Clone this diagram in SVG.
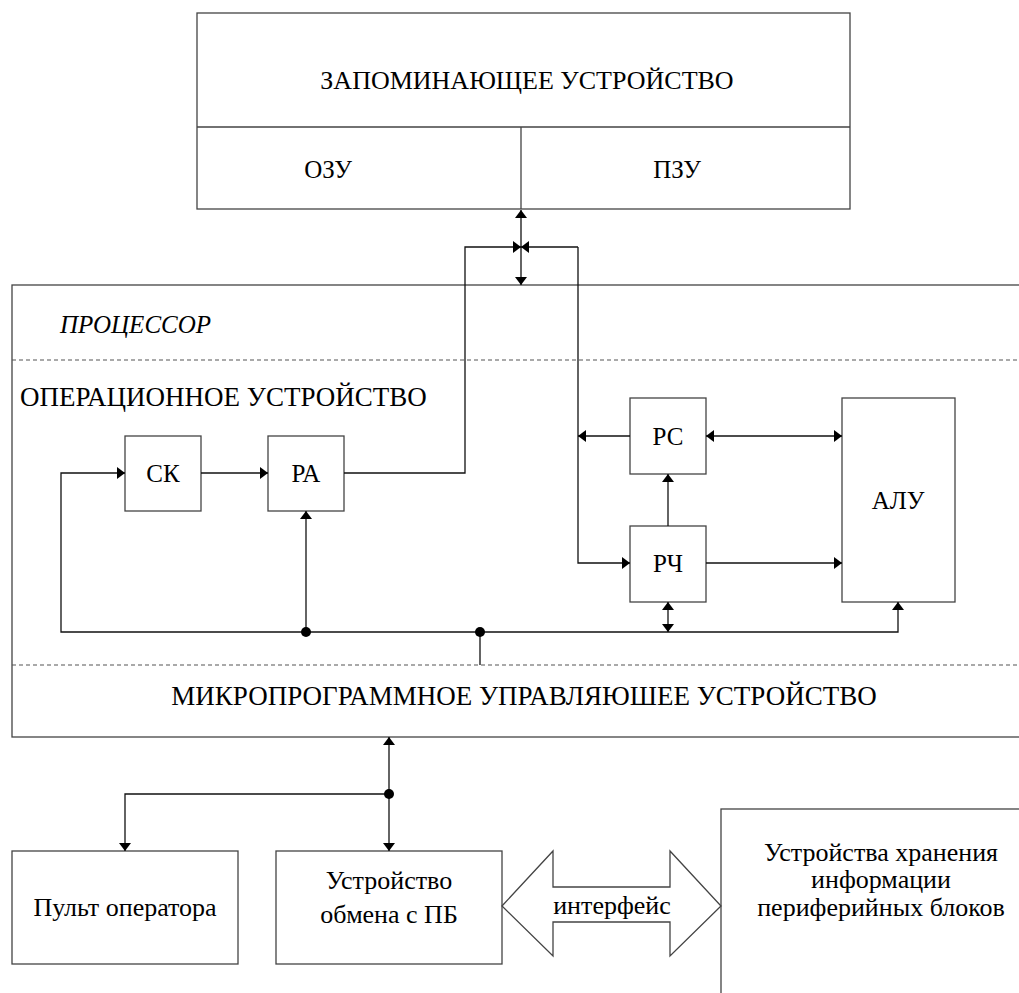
<svg xmlns="http://www.w3.org/2000/svg" width="1019" height="993" viewBox="0 0 1019 993">
  <style>
    .box { fill: #fff; stroke: #444; stroke-width: 1.3; }
    .div { fill: none; stroke: #444; stroke-width: 1.3; }
    .dash { fill: none; stroke: #555; stroke-width: 1.2; stroke-dasharray: 4 3; }
    .wire { fill: none; stroke: #111; stroke-width: 1.3; }
    .dot { fill: #000; }
    .big { font-size: 26px; }
    .hdr { font-size: 27px; }
    .lbl { font-size: 25px; }
    .sm { font-size: 26px; }
    .mid { text-anchor: middle; }
    .it { font-style: italic; }
  </style>
  <defs>
    <marker id="arr" viewBox="0 0 8 12" refX="8" refY="6" markerWidth="8" markerHeight="12" markerUnits="userSpaceOnUse" orient="auto-start-reverse">
      <path d="M0,0 L8,6 L0,12 z" fill="#000"/>
    </marker>
  </defs>

  <g font-family="'Liberation Serif', 'Times New Roman', 'DejaVu Serif', serif" fill="#000">

  <!-- memory unit -->
  <g id="memory">
    <rect class="box" x="197" y="13" width="653" height="196"/>
    <path class="div" d="M197,127 H850 M521,127 V209"/>
    <text class="big mid" x="527" y="89">ЗАПОМИНАЮЩЕЕ УСТРОЙСТВО</text>
    <text class="lbl mid" x="328" y="178">ОЗУ</text>
    <text class="lbl mid" x="677" y="178">ПЗУ</text>
  </g>

  <!-- processor frame with its two sections -->
  <g id="processor">
    <rect class="box" x="12" y="285" width="1030" height="452"/>
    <path class="dash" d="M12,360 H1019 M12,665 H1019"/>
    <text class="lbl it" x="60" y="333">ПРОЦЕССОР</text>
    <text class="hdr" x="20" y="406">ОПЕРАЦИОННОЕ УСТРОЙСТВО</text>
    <text class="hdr mid" x="524" y="705">МИКРОПРОГРАММНОЕ УПРАВЛЯЮШЕЕ УСТРОЙСТВО</text>
  </g>

  <g id="sk">
    <rect class="box" x="125" y="436" width="76" height="75"/>
    <text class="lbl mid" x="163" y="482">СК</text>
  </g>
  <g id="ra">
    <rect class="box" x="268" y="436" width="76" height="75"/>
    <text class="lbl mid" x="306" y="482">РА</text>
  </g>
  <g id="rs">
    <rect class="box" x="630" y="398" width="76" height="76"/>
    <text class="lbl mid" x="668" y="445">РС</text>
  </g>
  <g id="rch">
    <rect class="box" x="630" y="526" width="76" height="76"/>
    <text class="lbl mid" x="668" y="572">РЧ</text>
  </g>
  <g id="alu">
    <rect class="box" x="842" y="398" width="113" height="204"/>
    <text class="lbl mid" x="898" y="509">АЛУ</text>
  </g>

  <g id="console">
    <rect class="box" x="12" y="851" width="226" height="113"/>
    <text class="sm mid" x="125" y="916">Пульт оператора</text>
  </g>
  <g id="exchange">
    <rect class="box" x="276" y="851" width="226" height="113"/>
    <text class="sm mid" x="389" y="889">Устройство</text>
    <text class="sm mid" x="389" y="923">обмена с ПБ</text>
  </g>
  <g id="storage">
    <rect class="box" x="721" y="809" width="330" height="200"/>
    <text class="sm mid" x="881" y="861">Устройства хранения</text>
    <text class="sm mid" x="881" y="888">информации</text>
    <text class="sm mid" x="881" y="916">периферийных блоков</text>
  </g>

  <!-- wiring -->
  <g id="connectors">
    <path class="wire" d="M521,210 V285" marker-start="url(#arr)" marker-end="url(#arr)"/>
    <path class="wire" d="M344,473 H465 V247 H521" marker-end="url(#arr)"/>
    <path class="wire" d="M578,247 H521" marker-end="url(#arr)"/>
    <path class="wire" d="M578,247 V563 H630" marker-end="url(#arr)"/>
    <path class="wire" d="M630,436 H578" marker-end="url(#arr)"/>
    <path class="wire" d="M201,473 H268" marker-end="url(#arr)"/>
    <path class="wire" d="M306,632 H61 V473 H125" marker-end="url(#arr)"/>
    <path class="wire" d="M306,632 V511" marker-end="url(#arr)"/>
    <path class="wire" d="M306,632 H898 V602" marker-end="url(#arr)"/>
    <path class="wire" d="M668,632 V602" marker-start="url(#arr)" marker-end="url(#arr)"/>
    <path class="wire" d="M668,526 V474" marker-end="url(#arr)"/>
    <path class="wire" d="M706,436 H842" marker-start="url(#arr)" marker-end="url(#arr)"/>
    <path class="wire" d="M706,563 H842" marker-end="url(#arr)"/>
    <path class="wire" d="M480,632 V665"/>
    <circle class="dot" cx="306" cy="632" r="5"/>
    <circle class="dot" cx="480" cy="632" r="5"/>
    <path class="wire" d="M389,737 V851" marker-start="url(#arr)" marker-end="url(#arr)"/>
    <path class="wire" d="M389,794 H125 V851" marker-end="url(#arr)"/>
    <circle class="dot" cx="389" cy="794" r="5"/>
  </g>

  <!-- interface link between exchange unit and storage -->
  <g id="interface">
    <polygon class="box" points="502,906 553,851 553,887 670,887 670,851 721,906 670,956 670,922 553,922 553,956"/>
    <text class="sm mid" x="612" y="914">интерфейс</text>
  </g>

  </g>
</svg>
